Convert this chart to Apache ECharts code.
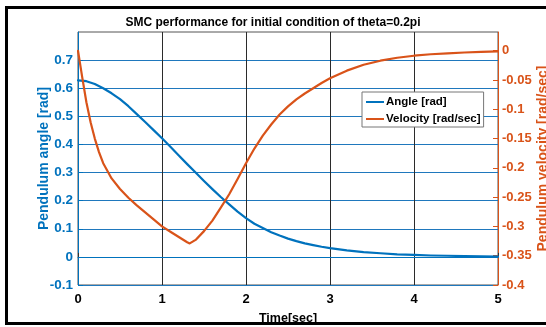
<!DOCTYPE html>
<html>
<head>
<meta charset="utf-8">
<script src="https://cdn.jsdelivr.net/npm/echarts@6/dist/echarts.min.js"></script>
<style>
  html, body { margin: 0; padding: 0; background: #fff; }
  #chart { width: 546px; height: 327px; }
</style>
</head>
<body>
<div id="chart"></div>
<script>
// Pendulum angle response (rad) sampled over time (s)
const timeAngle = [0, 0.1, 0.2, 0.3, 0.4, 0.5, 0.6, 0.7, 0.8, 0.9, 1.0, 1.1, 1.2, 1.3, 1.4, 1.5, 1.6, 1.7, 1.8, 1.9, 2.0,
  2.1, 2.2, 2.3, 2.4, 2.5, 2.6, 2.7, 2.8, 2.9, 3.0, 3.2, 3.4, 3.6, 3.8, 4.0, 4.2, 4.4, 4.6, 4.8, 5.0];
const angle = [0.628, 0.625, 0.615, 0.600, 0.582, 0.561, 0.536, 0.508, 0.480, 0.451, 0.422, 0.392, 0.361, 0.330, 0.300,
  0.270, 0.241, 0.213, 0.187, 0.161, 0.138, 0.118, 0.103, 0.088, 0.076, 0.065, 0.056, 0.048, 0.042, 0.036, 0.031,
  0.023, 0.017, 0.013, 0.009, 0.007, 0.005, 0.004, 0.003, 0.002, 0.001];

// Pendulum angular velocity (rad/sec) sampled over time (s)
const timeVel = [0, 0.05, 0.1, 0.15, 0.2, 0.25, 0.3, 0.4, 0.5, 0.6, 0.7, 0.8, 0.9, 1.0, 1.1, 1.2, 1.3, 1.33, 1.4, 1.5,
  1.6, 1.7, 1.8, 1.9, 2.0, 2.1, 2.2, 2.3, 2.4, 2.5, 2.6, 2.7, 2.8, 2.9, 3.0, 3.2, 3.4, 3.6, 3.8, 4.0, 4.2, 4.4, 4.6, 4.8, 5.0];
const velocity = [0.0, -0.045, -0.088, -0.122, -0.150, -0.173, -0.192, -0.218, -0.236, -0.251, -0.264, -0.276, -0.288,
  -0.300, -0.309, -0.318, -0.327, -0.329, -0.323, -0.308, -0.290, -0.268, -0.245, -0.219, -0.192, -0.167, -0.145,
  -0.126, -0.109, -0.095, -0.083, -0.073, -0.064, -0.055, -0.047, -0.034, -0.024, -0.017, -0.012, -0.0085, -0.006,
  -0.0045, -0.003, -0.002, -0.001];

// Tick values for each axis
const timeTicks = [0, 1, 2, 3, 4, 5];
const angleTicks = [-0.1, 0, 0.1, 0.2, 0.3, 0.4, 0.5, 0.6, 0.7];
const velocityTicks = [-0.4, -0.35, -0.3, -0.25, -0.2, -0.15, -0.1, -0.05, 0];

const BLUE = '#0072BD';
const ORANGE = '#D95319';
const FONT = '"Liberation Sans", Arial, sans-serif';

const zip = (xs, ys) => xs.map((x, i) => [x, ys[i]]);

const chart = echarts.init(document.getElementById('chart'), null, { renderer: 'canvas' });

chart.setOption({
  animation: false,
  backgroundColor: '#fff',
  title: {
    text: 'SMC performance for initial condition of theta=0.2pi',
    left: 'center',
    top: 17,
    padding: 0,
    textStyle: { fontFamily: FONT, fontWeight: 'bold', fontSize: 12, color: '#000' }
  },
  grid: {
    left: 78, right: 48, top: 32, bottom: 42,
    outerBoundsMode: 'none', containLabel: false,
    show: true, borderColor: '#555', borderWidth: 1, backgroundColor: '#fff'
  },
  legend: {
    orient: 'vertical',
    left: 362, top: 92,
    padding: [3, 3, 1, 4],
    itemGap: 3,
    itemWidth: 18, itemHeight: 2,
    backgroundColor: '#fff',
    borderColor: '#777', borderWidth: 1,
    icon: 'rect',
    textStyle: { fontFamily: FONT, fontWeight: 'bold', fontSize: 11.5, color: '#000', padding: [0, 0, 0, -3], lineHeight: 14 },
    data: ['Angle [rad]', 'Velocity [rad/sec]']
  },
  xAxis: {
    type: 'value', min: 0, max: 5, interval: 1,
    name: 'Time[sec]', nameLocation: 'middle', nameGap: 27, nameMoveOverlap: false,
    nameTextStyle: { fontFamily: FONT, fontWeight: 'bold', fontSize: 12.5, color: '#000' },
    axisLine: { show: true, lineStyle: { color: BLUE, width: 1 } },
    axisTick: { show: true, inside: true, length: 4, lineStyle: { color: '#333' } },
    axisLabel: { fontFamily: FONT, fontWeight: 'bold', fontSize: 13, color: '#000', margin: 8, customValues: timeTicks },
    splitLine: { show: true, lineStyle: { color: '#2b2b2b', width: 1 } }
  },
  yAxis: [
    {
      type: 'value', position: 'left', min: -0.1, max: 0.8,
      name: 'Pendulum angle [rad]', nameLocation: 'middle', nameRotate: 90, nameGap: 27, nameMoveOverlap: false,
      nameTextStyle: { fontFamily: FONT, fontWeight: 'bold', fontSize: 14, color: BLUE },
      axisLine: { show: true, onZero: false, lineStyle: { color: BLUE, width: 1 } },
      axisTick: { show: true, inside: true, length: 5, customValues: angleTicks, lineStyle: { color: BLUE } },
      axisLabel: {
        fontFamily: FONT, fontWeight: 'bold', fontSize: 13.5, color: BLUE, margin: 5,
        customValues: angleTicks, formatter: v => String(+v.toFixed(2))
      },
      splitLine: { show: true, lineStyle: { color: '#1f78bd', width: 1.2 } }
    },
    {
      type: 'value', position: 'right', min: -0.4, max: 0.032,
      name: 'Pendulum velocity [rad/sec]', nameLocation: 'middle', nameRotate: 90, nameGap: 38, nameMoveOverlap: false,
      nameTextStyle: { fontFamily: FONT, fontWeight: 'bold', fontSize: 14, color: ORANGE },
      axisLine: { show: true, onZero: false, lineStyle: { color: ORANGE, width: 1 } },
      axisTick: { show: true, inside: true, length: 5, customValues: velocityTicks, lineStyle: { color: ORANGE } },
      axisLabel: {
        fontFamily: FONT, fontWeight: 'bold', fontSize: 13, color: ORANGE, margin: 4,
        customValues: velocityTicks, formatter: v => String(+v.toFixed(2))
      },
      splitLine: { show: false }
    }
  ],
  series: [
    {
      name: 'Angle [rad]', type: 'line', yAxisIndex: 0,
      data: zip(timeAngle, angle),
      showSymbol: false, smooth: false,
      lineStyle: { color: BLUE, width: 2.2, join: 'round', cap: 'round' }, itemStyle: { color: BLUE }, z: 3
    },
    {
      name: 'Velocity [rad/sec]', type: 'line', yAxisIndex: 1,
      data: zip(timeVel, velocity),
      showSymbol: false, smooth: false,
      lineStyle: { color: ORANGE, width: 2.2, join: 'round', cap: 'round' }, itemStyle: { color: ORANGE }, z: 4
    }
  ],
  graphic: [
    {
      type: 'rect', silent: true, z: 100,
      shape: { x: 6.5, y: 7.5, width: 560, height: 316 },
      style: { fill: 'none', stroke: '#000', lineWidth: 3 }
    }
  ]
});
</script>
</body>
</html>
